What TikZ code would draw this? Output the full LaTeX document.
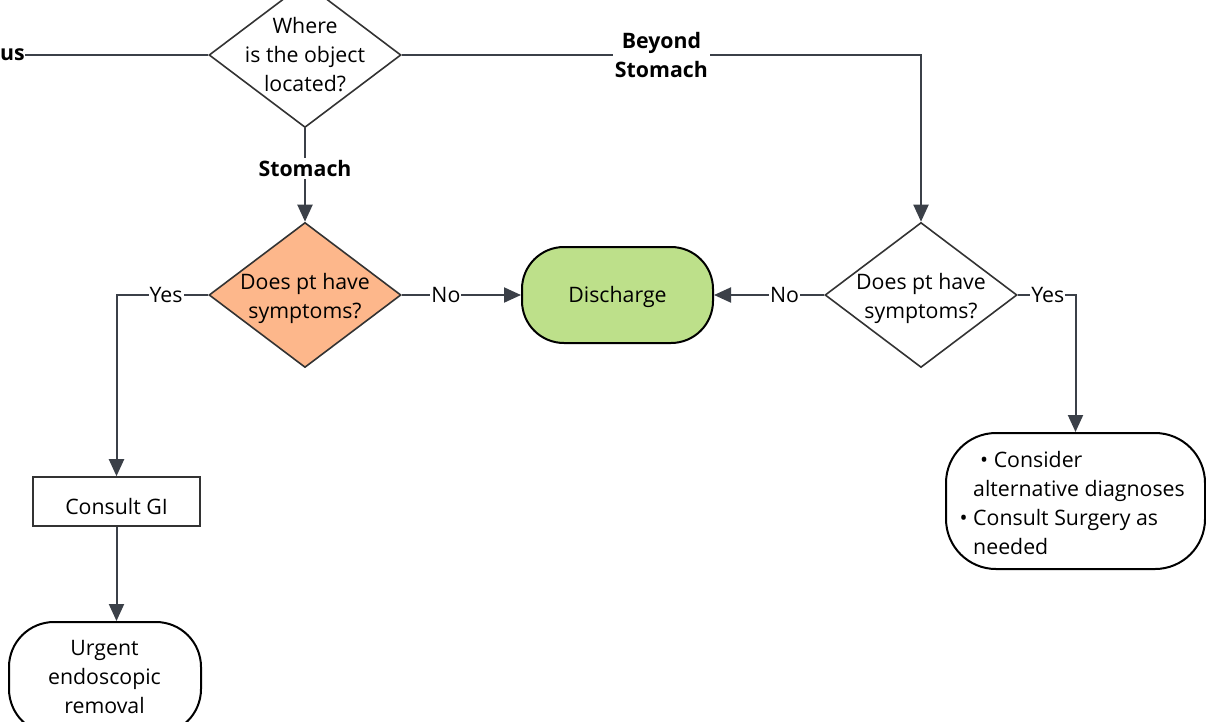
\documentclass[tikz,border=0pt]{standalone}
\usepackage{fontspec}
\setmainfont{Open Sans}
\usepackage{tikz}
\usetikzlibrary{shapes.geometric}
\usetikzlibrary{arrows.meta}
\definecolor{wire}{RGB}{59,64,72}
\definecolor{salmon}{RGB}{253,183,139}
\definecolor{leaf}{RGB}{189,224,138}

\begin{document}
\begin{tikzpicture}[x=1pt,y=-1pt]
\tikzset{decision/.style = {shape=diamond,draw=black!80,line width=1.6pt,minimum width=192pt,minimum height=145pt,inner sep=0pt}}
\tikzset{term/.style = {shape=rectangle,rounded corners=42pt,draw=black,line width=2pt}}
\tikzset{txt/.style = {font=\fontsize{21.3}{29}\selectfont,align=center}}
\tikzset{edge/.style = {-{Triangle[length=17pt,width=15pt]},draw=wire,line width=2pt}}
\tikzset{lbl/.style = {fill=white,inner sep=1pt,font=\fontsize{21.3}{29}\selectfont}}
\tikzset{tag/.style = {fill=white,inner sep=2pt,font=\fontsize{21.3}{29}\selectfont\bfseries,align=center}}
\useasboundingbox (0,0) rectangle (1206,721);
\clip (0,0) rectangle (1206,721);
\node[decision](loc) at (305, 55) {};
\node[txt] at (loc) {Where\\is the object\\located?};
\node[decision, fill=salmon](stom) at (305, 295) {};
\node[txt] at (305, 298) {Does pt have\\symptoms?};
\node[decision](sym) at (921, 295) {};
\node[txt] at (921, 298) {Does pt have\\symptoms?};
\node[term, fill=leaf, minimum width=191pt, minimum height=96pt](dis) at (617.5, 295) {};
\node[txt] at (617.5, 297) {Discharge};
\node[shape=rectangle, draw=black!80, line width=1.6pt, minimum width=167pt, minimum height=49pt](gi) at (116.5, 501.5) {};
\node[txt] at (116.5, 507) {Consult GI};
\node[term, rounded corners=45pt, minimum width=192pt, minimum height=112pt](urg) at (105, 678) {};
\node[txt] at (104.5, 677) {Urgent\\endoscopic\\removal};
\node[term, rounded corners=50pt, minimum width=259pt, minimum height=136pt](alt) at (1075.5, 501) {};
\node[txt, align=left] at (1079, 503) {\hspace{7pt}\textbullet\ Consider\\alternative diagnoses\\\llap{\textbullet\ }Consult Surgery as\\needed};
\node[tag, anchor=east, inner sep=0pt](eso) at (25, 55) {Esophagus};
\draw[draw=wire, line width=2pt] (loc.west) -- (eso.east);
\draw[edge] (loc.east) -| (sym.north) node[tag, pos=0.25] {Beyond\\Stomach};
\draw[edge] (loc.south) -- (stom.north) node[tag, pos=0.43] {Stomach};
\draw[edge] (stom.east) -- (dis.west) node[lbl, pos=0.37] {No};
\draw[edge] (sym.west) -- (dis.east) node[lbl, pos=0.36] {No};
\draw[edge] (stom.west) -| (gi.north) node[lbl, pos=0.23] {Yes};
\draw[edge] (sym.east) -| (alt.north) node[lbl, pos=0.26] {Yes};
\draw[edge] (gi.south) -- (gi.south |- urg.north);
\end{tikzpicture}
\end{document}
